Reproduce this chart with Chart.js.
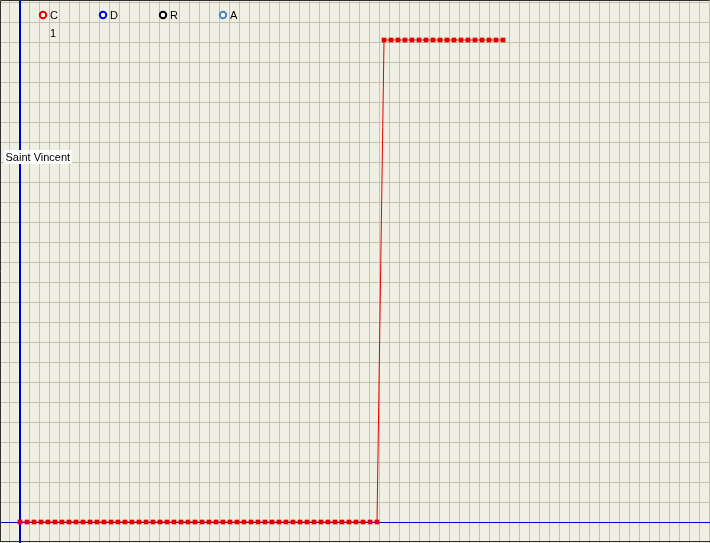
<!DOCTYPE html>
<html>
<head>
<meta charset="utf-8">
<script src="https://cdn.jsdelivr.net/npm/chart.js@4/dist/chart.umd.min.js"></script>
<style>
html,body{margin:0;padding:0;background:#f0efe4;}
canvas{display:block;}
</style>
</head>
<body>
<canvas id="c" width="710" height="543"></canvas>
<script>
// ---- data ----
const categories = [0,1,2,3,4,5,6,7,8,9,10,11,12,13,14,15,16,17,18,19,20,21,22,23,24,25,26,27,28,29,30,31,32,33,34,35,36,37,38,39,40,41,42,43,44,45,46,47,48,49,50,51,52,53,54,55,56,57,58,59,60,61,62,63,64,65,66,67,68,69];
const seriesC = [0,0,0,0,0,0,0,0,0,0,0,0,0,0,0,0,0,0,0,0,0,0,0,0,0,0,0,0,0,0,0,0,0,0,0,0,0,0,0,0,0,0,0,0,0,0,0,0,0,0,0,0,1,1,1,1,1,1,1,1,1,1,1,1,1,1,1,1,1,1];
const seriesD = [];
const seriesR = [];
const seriesA = [];
const seriesLabels = ["C","D","R","A"];
const seriesColors = ["#e60000","#0000e6","#000000","#4a86c8"];
const valueLabel = "1";
const titleLabel = "Saint Vincent";

const toPts = arr => arr.map((v,i)=>({x:categories[i], y:v}));

const bg = '#f0efe4';
const gridColor = '#c4c3b6';
const axisColor = '#0000cc';

const xMin = -20/7, xMax = 690/7;
const yMin = -21/482, yMax = 522/482;
const xAxisAt = -1/7, yAxisAt = 0;

const xGrid = [];
for (let k=0;k<=70;k++) xGrid.push((9+10*k-20)/7);
const yGrid = [];
for (let k=0;k<=26;k++) yGrid.push(20*k/482);

const overlay = {
  id:'overlay',
  beforeDraw(chart){
    const ctx = chart.ctx;
    ctx.save();
    ctx.fillStyle = bg;
    ctx.fillRect(0,0,chart.width,chart.height);
    const xs = chart.scales.x, ys = chart.scales.y;
    ctx.lineWidth = 1;
    ctx.strokeStyle = gridColor;
    ctx.beginPath();
    yGrid.forEach(v=>{ if (v===yAxisAt) return; const p = Math.round(ys.getPixelForValue(v))+0.5; ctx.moveTo(0,p); ctx.lineTo(chart.width,p); });
    xGrid.forEach(v=>{ if (Math.abs(v-xAxisAt)<1e-9) return; const p = Math.round(xs.getPixelForValue(v))+0.5; ctx.moveTo(p,0); ctx.lineTo(p,chart.height); });
    ctx.stroke();
    ctx.strokeStyle = axisColor;
    ctx.beginPath();
    const ay = Math.round(ys.getPixelForValue(yAxisAt))+0.5;
    ctx.moveTo(0,ay); ctx.lineTo(chart.width,ay);
    ctx.stroke();
    ctx.lineWidth = 2;
    ctx.beginPath();
    const ax = Math.round(xs.getPixelForValue(xAxisAt))+1;
    ctx.moveTo(ax,0); ctx.lineTo(ax,chart.height);
    ctx.stroke();
    ctx.restore();
  },
  afterDraw(chart){
    const ctx = chart.ctx;
    ctx.save();
    ctx.font = '11px "Liberation Sans", Arial, sans-serif';
    ctx.textBaseline = 'alphabetic';
    chart.data.datasets.forEach((ds,i)=>{
      const cx = 43 + i*60, cy = 15;
      ctx.beginPath();
      ctx.arc(cx,cy,3.2,0,Math.PI*2);
      ctx.strokeStyle = ds.borderColor;
      ctx.lineWidth = 2;
      ctx.fillStyle = '#ffffff';
      ctx.fill();
      ctx.stroke();
      ctx.fillStyle = '#000000';
      ctx.fillText(ds.label, cx+7, 19);
    });
    ctx.fillStyle = '#000';
    ctx.fillText(valueLabel, 50, 37);
    const w = ctx.measureText(titleLabel).width;
    ctx.fillStyle = '#ffffff';
    ctx.fillRect(4,150,w+3,14);
    ctx.fillStyle = '#000';
    ctx.fillText(titleLabel, 5.5, 161);
    ctx.strokeStyle = '#303030';
    ctx.lineWidth = 1;
    ctx.beginPath();
    ctx.moveTo(0.5,542); ctx.lineTo(0.5,0.5); ctx.lineTo(709.5,0.5);
    ctx.moveTo(0,541.5); ctx.lineTo(710,541.5);
    ctx.stroke();
    ctx.restore();
  }
};

new Chart(document.getElementById('c'), {
  type:'line',
  data:{
    datasets:[
      {label:seriesLabels[0], data:toPts(seriesC), borderColor:seriesColors[0], backgroundColor:seriesColors[0], borderWidth:1, pointStyle:'rect', pointRadius:3.3, pointBorderWidth:0, pointBackgroundColor:seriesColors[0], tension:0},
      {label:seriesLabels[1], data:toPts(seriesD), borderColor:seriesColors[1], backgroundColor:seriesColors[1]},
      {label:seriesLabels[2], data:toPts(seriesR), borderColor:seriesColors[2], backgroundColor:seriesColors[2]},
      {label:seriesLabels[3], data:toPts(seriesA), borderColor:seriesColors[3], backgroundColor:seriesColors[3]}
    ]
  },
  options:{
    responsive:false,
    animation:false,
    devicePixelRatio:1,
    layout:{padding:0, autoPadding:false},
    plugins:{legend:{display:false}, tooltip:{enabled:false}},
    scales:{
      x:{type:'linear', min:xMin, max:xMax, display:false},
      y:{type:'linear', min:yMin, max:yMax, display:false}
    }
  },
  plugins:[overlay]
});
</script>
</body>
</html>
